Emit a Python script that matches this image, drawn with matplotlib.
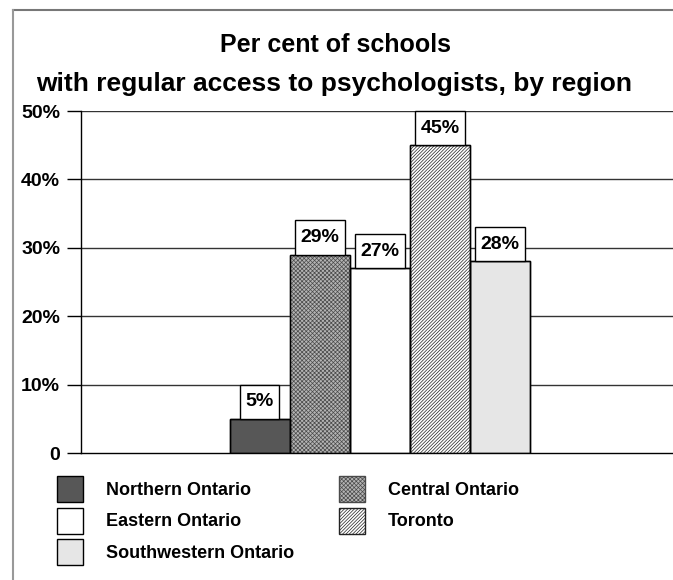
import matplotlib.pyplot as plt
from matplotlib.lines import Line2D
from matplotlib.path import Path

plt.rcParams['font.family'] = ['Liberation Sans', 'DejaVu Sans']
plt.rcParams['font.weight'] = 'bold'
plt.rcParams['hatch.linewidth'] = 0.5

# data
regions = ['Northern Ontario', 'Central Ontario', 'Eastern Ontario',
           'Toronto', 'Southwestern Ontario']
values = [5, 29, 27, 45, 28]
ytick_vals = [0, 10, 20, 30, 40, 50]
ytick_labels = ['0', '10%', '20%', '30%', '40%', '50%']

# styles per region
faces = ['#575757', '#b4b4b4', 'white', 'white', '#e6e6e6']
hatches = [None, 'xxxxxxxx', None, '/' * 10, None]
hatch_cols = ['black', '#4a4a4a', 'black', '#222222', 'black']


def label_box(x0, y0, width, height, mutation_size):
    # taller than wide padding, like the original label boxes
    px = 0.28 * mutation_size
    py = 0.44 * mutation_size
    x0, x1 = x0 - px, x0 + width + px
    y0, y1 = y0 - py, y0 + height + py
    return Path([(x0, y0), (x1, y0), (x1, y1), (x0, y1), (x0, y0)], closed=True)


fig = plt.figure(figsize=(6.73, 5.80), dpi=100)
ax = fig.add_axes([81/673, 1-453/580, (679-81)/673, 342/580])

x = list(range(len(values)))
bars = []
for i in x:
    # fill + hatch (hatch takes the edge colour), then a black outline on top
    b = ax.bar(i, values[i], width=1.0, color=faces[i], edgecolor=hatch_cols[i],
               linewidth=0, hatch=hatches[i], zorder=3, label=regions[i])
    ax.bar(i, values[i], width=1.0, fill=False, edgecolor='black',
           linewidth=1.0, zorder=4)
    b[0].set_linewidth(1.0)
    bars.append(b[0])

# value labels in white boxes
for i in x:
    ax.annotate(f'{values[i]}%', xy=(i, values[i]), xytext=(0, 6.2),
                textcoords='offset points', ha='center', va='bottom',
                fontsize=14, fontweight='bold', zorder=5,
                bbox=dict(boxstyle=label_box, fc='white', ec='black', lw=1.0))

ax.set_xlim(-2.98, 6.98)
ax.set_ylim(0, 50)
ax.set_yticks(ytick_vals)
ax.set_yticklabels(ytick_labels, fontsize=14, fontweight='bold')
ax.set_xticks([])
ax.tick_params(axis='y', direction='out', length=10, width=1.0, pad=5)
for v in ytick_vals[1:]:
    ax.axhline(v, color='#333333', lw=1.0, zorder=1)
ax.spines['top'].set_visible(False)
ax.spines['right'].set_visible(False)
ax.spines['left'].set_linewidth(1.0)
ax.spines['bottom'].set_linewidth(1.0)

# title
fig.text(336/673, 1-45/580, 'Per cent of schools', ha='center', va='center',
         fontsize=18, fontweight='bold')
fig.text(334/673, 1-84/580, 'with regular access to psychologists, by region',
         ha='center', va='center', fontsize=19, fontweight='bold')

# legend: column 1 Northern, Eastern, Southwestern; column 2 Central, Toronto
order = [0, 2, 4, 1, 3]
fig.legend([bars[k] for k in order], [regions[k] for k in order],
           loc='upper left', bbox_to_anchor=(57/673, 1-476/580), ncol=2,
           frameon=False, borderpad=0, borderaxespad=0,
           handlelength=1.45, handleheight=1.85, handletextpad=1.25,
           labelspacing=0.3, columnspacing=2.5,
           prop={'size': 13, 'weight': 'bold'})

# outer frame lines (top and left)
fig.add_artist(Line2D([13/673, 1], [1-10/580, 1-10/580], color='#777777', lw=1.5))
fig.add_artist(Line2D([13/673, 13/673], [0, 1-10/580], color='#999999', lw=1.5))

fig.savefig('out.png', dpi=100)
